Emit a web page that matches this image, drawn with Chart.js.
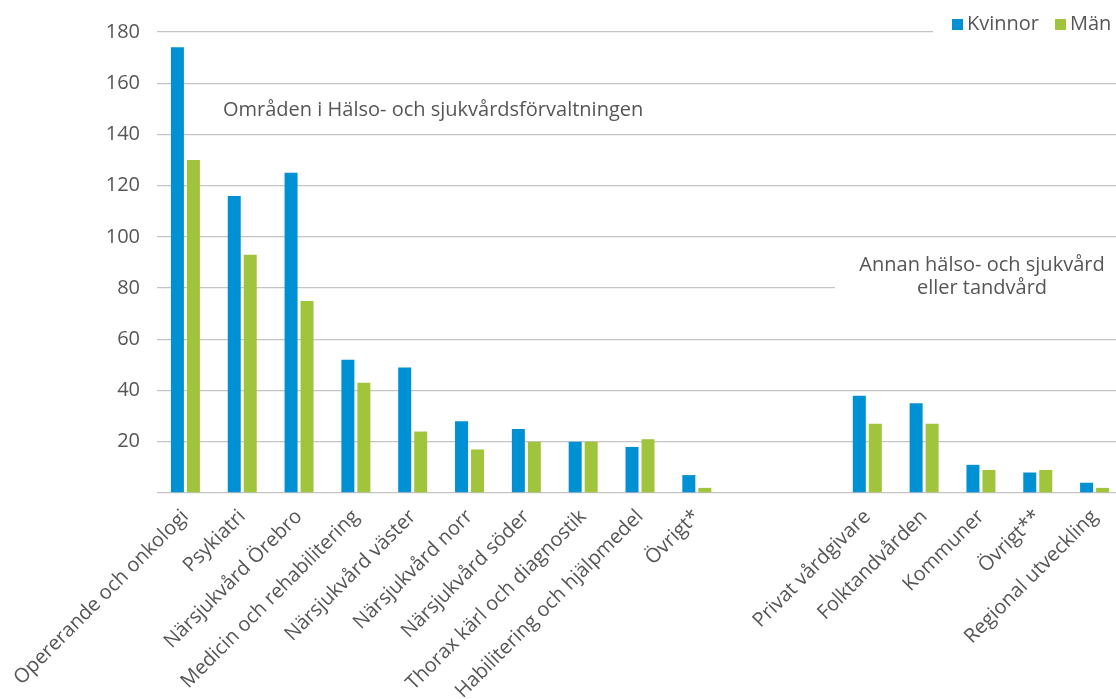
<!DOCTYPE html>
<html>
<head>
<meta charset="utf-8">
<script src="https://cdn.jsdelivr.net/npm/chart.js@4/dist/chart.umd.min.js"></script>
<style>
  html, body { margin: 0; padding: 0; background: #fff; overflow: hidden; }
  #wrap { width: 1124px; height: 699px; }
</style>
</head>
<body>
<div id="wrap"><canvas id="chart" width="1124" height="699"></canvas></div>
<script>
// Data
var categories = [
    'Opererande och onkologi', 'Psykiatri', 'Närsjukvård Örebro',
    'Medicin och rehabilitering', 'Närsjukvård väster', 'Närsjukvård norr',
    'Närsjukvård söder', 'Thorax kärl och diagnostik', 'Habilitering och hjälpmedel',
    'Övrigt*', '', '', 'Privat vårdgivare', 'Folktandvården', 'Kommuner',
    'Övrigt**', 'Regional utveckling'
];
var kvinnor = [174, 116, 125, 52, 49, 28, 25, 20, 18, 7, null, null, 38, 35, 11, 8, 4];
var man = [130, 93, 75, 43, 24, 17, 20, 20, 21, 2, null, null, 27, 27, 9, 9, 2];
var yTicks = [20, 40, 60, 80, 100, 120, 140, 160, 180];
var seriesNames = ['Kvinnor', 'Män'];
var groupTitles = ['Områden i Hälso- och sjukvårdsförvaltningen', 'Annan hälso- och sjukvård', 'eller tandvård'];

var BLUE = '#0090d4';
var GREEN = '#a0c43c';
var TEXT = '#555657';
var FONT = '"Open Sans", "Noto Sans", sans-serif';

// Extra drawing: mask bits of grid, group titles, legend
var overlay = {
    id: 'overlay',
    beforeDatasetsDraw: function(chart) {
        var c = chart.ctx;
        var y = chart.scales.y;
        c.save();
        c.fillStyle = '#fff';
        // gridline gaps behind legend and right-hand title
        c.fillRect(933, y.getPixelForValue(180) - 4, chart.width - 933, 8);
        c.fillRect(835, y.getPixelForValue(80) - 4, chart.width - 835, 8);
        c.restore();
    },
    afterDraw: function(chart) {
        var c = chart.ctx;
        c.save();
        c.fillStyle = TEXT;
        c.font = '20px ' + FONT;
        c.textBaseline = 'middle';
        c.textAlign = 'left';
        c.fillText(groupTitles[0], 223, 110);
        c.textAlign = 'center';
        c.fillText(groupTitles[1], 982, 265);
        c.fillText(groupTitles[2], 982, 288);

        // legend
        var colors = [BLUE, GREEN];
        var x = 952;
        c.textAlign = 'left';
        for (var i = 0; i < seriesNames.length; i++) {
            c.fillStyle = colors[i];
            c.fillRect(x, 19, 11, 11);
            c.fillStyle = TEXT;
            c.fillText(seriesNames[i], x + 15, 24);
            x += 15 + c.measureText(seriesNames[i]).width + 16;
        }
        c.restore();
    }
};

var chart = new Chart(document.getElementById('chart'), {
    type: 'bar',
    data: {
        labels: categories,
        datasets: [
            {
                label: seriesNames[0],
                data: kvinnor,
                backgroundColor: BLUE,
                barPercentage: 0.8125,
                categoryPercentage: 0.563
            },
            {
                label: seriesNames[1],
                data: man,
                backgroundColor: GREEN,
                barPercentage: 0.8125,
                categoryPercentage: 0.563
            }
        ]
    },
    options: {
        responsive: false,
        animation: false,
        layout: { padding: { top: 32, right: 1, left: 0, bottom: 0 } },
        plugins: {
            legend: { display: false },
            tooltip: { enabled: false }
        },
        scales: {
            x: {
                grid: { display: false },
                border: { display: false },
                ticks: {
                    color: TEXT,
                    font: { family: FONT, size: 20 },
                    minRotation: 45,
                    maxRotation: 45,
                    autoSkip: false,
                    padding: 4
                },
                afterFit: function(scale) { scale.height = 206; }
            },
            y: {
                min: 0,
                max: 180,
                afterBuildTicks: function(scale) {
                    scale.ticks = [0].concat(yTicks).map(function(v) { return { value: v }; });
                },
                grid: { color: '#c4c4c4', lineWidth: 1.3, drawTicks: false },
                border: { display: false },
                ticks: {
                    color: TEXT,
                    font: { family: FONT, size: 20 },
                    padding: 17,
                    callback: function(v) { return v === 0 ? '' : v; }
                },
                afterFit: function(scale) { scale.width = 157; }
            }
        }
    },
    plugins: [overlay]
});
</script>
</body>
</html>
